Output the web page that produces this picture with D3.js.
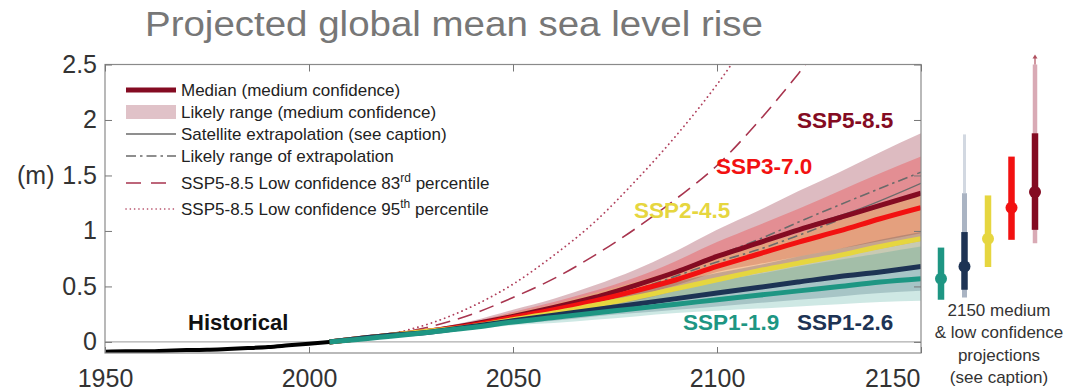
<!DOCTYPE html>
<html>
<head>
<meta charset="utf-8">
<script src="https://cdn.jsdelivr.net/npm/d3@7"></script>
<style>
  html, body { margin: 0; padding: 0; background: #fff; }
  svg { display: block; font-family: "Liberation Sans", Arial, Helvetica, sans-serif; }
</style>
</head>
<body>
<svg id="chart" width="1076" height="391"></svg>
<script>
// ---- Data -------------------------------------------------------------
const histYears = [1950, 1955, 1960, 1965, 1970, 1975, 1980, 1985, 1990, 1995, 2000, 2005];
const histValues = [-0.088, -0.084, -0.085, -0.079, -0.074, -0.071, -0.064, -0.056, -0.046, -0.031, -0.016, 0.0];

const projYears = [2005, 2020, 2030, 2040, 2050, 2060, 2070, 2080, 2090, 2100, 2110, 2120, 2130, 2140, 2150];

const ssp585Median = [0, 0.06, 0.10, 0.16, 0.23, 0.31, 0.40, 0.51, 0.63, 0.77, 0.89, 1.01, 1.12, 1.23, 1.34];
const ssp585Low    = [0, 0.05, 0.09, 0.14, 0.20, 0.26, 0.33, 0.41, 0.51, 0.63, 0.70, 0.77, 0.84, 0.91, 0.98];
const ssp585High   = [0, 0.07, 0.12, 0.19, 0.29, 0.39, 0.51, 0.65, 0.82, 1.01, 1.18, 1.36, 1.53, 1.71, 1.88];

const ssp370Median = [0, 0.06, 0.10, 0.15, 0.22, 0.29, 0.37, 0.46, 0.56, 0.68, 0.79, 0.90, 1.00, 1.11, 1.21];
const ssp370Low    = [0, 0.05, 0.09, 0.13, 0.18, 0.24, 0.30, 0.37, 0.46, 0.55, 0.62, 0.70, 0.77, 0.84, 0.91];
const ssp370High   = [0, 0.07, 0.12, 0.18, 0.27, 0.36, 0.46, 0.58, 0.73, 0.90, 1.05, 1.20, 1.36, 1.52, 1.67];

const ssp245Median = [0, 0.06, 0.10, 0.14, 0.20, 0.26, 0.33, 0.40, 0.48, 0.56, 0.64, 0.71, 0.78, 0.86, 0.93];
const ssp245Low    = [0, 0.05, 0.09, 0.12, 0.17, 0.22, 0.27, 0.33, 0.38, 0.44, 0.49, 0.54, 0.58, 0.62, 0.66];
const ssp245High   = [0, 0.07, 0.11, 0.17, 0.26, 0.34, 0.44, 0.54, 0.65, 0.76, 0.87, 0.98, 1.10, 1.21, 1.33];

const ssp126Median = [0, 0.06, 0.09, 0.14, 0.19, 0.24, 0.29, 0.34, 0.39, 0.44, 0.49, 0.54, 0.59, 0.63, 0.68];
const ssp126Low    = [0, 0.05, 0.08, 0.12, 0.16, 0.19, 0.23, 0.26, 0.29, 0.32, 0.35, 0.38, 0.41, 0.44, 0.46];
const ssp126High   = [0, 0.07, 0.11, 0.17, 0.25, 0.31, 0.38, 0.46, 0.54, 0.62, 0.69, 0.77, 0.84, 0.92, 0.99];

const ssp119Median = [0, 0.05, 0.09, 0.13, 0.18, 0.22, 0.26, 0.30, 0.34, 0.38, 0.42, 0.46, 0.50, 0.54, 0.57];
const ssp119Low    = [0, 0.05, 0.08, 0.11, 0.15, 0.17, 0.20, 0.23, 0.26, 0.28, 0.30, 0.32, 0.34, 0.36, 0.37];
const ssp119High   = [0, 0.06, 0.10, 0.16, 0.23, 0.29, 0.35, 0.41, 0.48, 0.55, 0.61, 0.68, 0.74, 0.80, 0.86];

// Low-confidence SSP5-8.5 percentiles
const p83Years  = [2020, 2030, 2040, 2050, 2060, 2070, 2080, 2090, 2100, 2110, 2120, 2130];
const p83Values = [0.07, 0.14, 0.25, 0.40, 0.57, 0.78, 1.02, 1.29, 1.59, 1.98, 2.42, 2.90];
const p95Years  = [2020, 2030, 2040, 2050, 2060, 2070, 2080, 2090, 2100, 2110];
const p95Values = [0.07, 0.17, 0.32, 0.52, 0.78, 1.08, 1.45, 1.86, 2.32, 2.85];

// Satellite-based extrapolation and its likely range
const extrapYears = [2005, 2050, 2080, 2100, 2110, 2120, 2135, 2150];
const extrapMid   = [0, 0.23, 0.50, 0.76, 0.88, 1.02, 1.20, 1.43];
const extrapLow   = [0, 0.22, 0.47, 0.72, 0.83, 0.96, 1.17, 1.35];
const extrapHigh  = [0, 0.23, 0.51, 0.78, 0.92, 1.08, 1.31, 1.53];

// 2150 projections (right-hand panel)
const scenarioNames = ["SSP1-1.9", "SSP1-2.6", "SSP2-4.5", "SSP3-7.0", "SSP5-8.5"];
const panelMedian = [0.57, 0.68, 0.93, 1.21, 1.35];
const panelLow    = [0.38, 0.47, 0.675, 0.92, 1.01];
const panelHigh   = [0.85, 0.99, 1.32, 1.67, 1.88];
// low-confidence ranges (only drawn for SSP1-2.6 and SSP5-8.5)
const panelLowConfScenarios = ["SSP1-2.6", "SSP5-8.5"];
const panelLowConfLow   = [0.40, 0.89];
const panelLowConfHigh  = [1.34, 4.82];
const panelP95High      = [1.87, null];

const yTicks = [0, 0.5, 1, 1.5, 2, 2.5];
const xTicks = [1950, 2000, 2050, 2100, 2150];

// ---- Styling ----------------------------------------------------------
const colors = {
  "SSP1-1.9": "#1e9683",
  "SSP1-2.6": "#1d3354",
  "SSP2-4.5": "#e6d63f",
  "SSP3-7.0": "#f21111",
  "SSP5-8.5": "#840b22"
};
const bandAlpha = {
  "SSP1-1.9": 0.22, "SSP1-2.6": 0.22, "SSP2-4.5": 0.25, "SSP3-7.0": 0.26, "SSP5-8.5": 0.28
};

const scenarios = [
  { name: "SSP5-8.5", median: ssp585Median, low: ssp585Low, high: ssp585High },
  { name: "SSP3-7.0", median: ssp370Median, low: ssp370Low, high: ssp370High },
  { name: "SSP2-4.5", median: ssp245Median, low: ssp245Low, high: ssp245High },
  { name: "SSP1-2.6", median: ssp126Median, low: ssp126Low, high: ssp126High },
  { name: "SSP1-1.9", median: ssp119Median, low: ssp119Low, high: ssp119High }
];

// ---- Layout -----------------------------------------------------------
const svg = d3.select("#chart");
const plotL = 105, plotR = 921, plotT = 64.5, plotB = 353;

const x = d3.scaleLinear().domain([1950, 2150]).range([plotL, plotR]);
const y = d3.scaleLinear().domain([-0.1, 2.5]).range([plotB, plotT]);

svg.append("defs").append("clipPath").attr("id", "plotClip")
  .append("rect").attr("x", plotL).attr("y", plotT)
  .attr("width", plotR - plotL).attr("height", plotB - plotT);

// Title
svg.append("text")
  .attr("x", 145).attr("y", 36)
  .attr("font-size", 35).attr("fill", "#777")
  .attr("textLength", 618).attr("lengthAdjust", "spacingAndGlyphs")
  .text("Projected global mean sea level rise");

// Zero reference line
svg.append("line")
  .attr("x1", plotL).attr("x2", plotR)
  .attr("y1", y(0)).attr("y2", y(0))
  .attr("stroke", "#999").attr("stroke-width", 1);

const plot = svg.append("g").attr("clip-path", "url(#plotClip)");

// Likely-range bands
const area = d3.area()
  .x((d, i) => x(projYears[i]))
  .y0(d => y(d[0])).y1(d => y(d[1]))
  .curve(d3.curveMonotoneX);

scenarios.forEach(s => {
  const pts = s.low.map((v, i) => [v, s.high[i]]);
  plot.append("path")
    .attr("d", area(pts))
    .attr("fill", colors[s.name])
    .attr("fill-opacity", bandAlpha[s.name]);
});

// Low-confidence percentiles
const lineXY = (xs) => d3.line().x((d, i) => x(xs[i])).y(d => y(d)).curve(d3.curveMonotoneX);

plot.append("path")
  .attr("d", lineXY(p83Years)(p83Values))
  .attr("fill", "none").attr("stroke", "#a8354f").attr("stroke-width", 1.6)
  .attr("stroke-dasharray", "15,8");

plot.append("path")
  .attr("d", lineXY(p95Years)(p95Values))
  .attr("fill", "none").attr("stroke", "#b0405c").attr("stroke-width", 1.8)
  .attr("stroke-linecap", "round").attr("stroke-dasharray", "0.1,4.6");

// Satellite extrapolation
plot.append("path")
  .attr("d", lineXY(extrapYears)(extrapMid))
  .attr("fill", "none").attr("stroke", "#6a6a6a").attr("stroke-width", 1.3);
[extrapLow, extrapHigh].forEach(arr => {
  plot.append("path")
    .attr("d", lineXY(extrapYears)(arr))
    .attr("fill", "none").attr("stroke", "#6a6a6a").attr("stroke-width", 1.6)
    .attr("stroke-dasharray", "10,4,2.5,4");
});

// Medians
scenarios.forEach(s => {
  plot.append("path")
    .attr("d", lineXY(projYears)(s.median))
    .attr("fill", "none").attr("stroke", colors[s.name])
    .attr("stroke-width", 5);
});

// Historical record
plot.append("path")
  .attr("d", lineXY(histYears)(histValues))
  .attr("fill", "none").attr("stroke", "#000").attr("stroke-width", 4);

// Frame
svg.append("rect")
  .attr("x", plotL).attr("y", plotT)
  .attr("width", plotR - plotL).attr("height", plotB - plotT)
  .attr("fill", "none").attr("stroke", "#8a8a8a").attr("stroke-width", 1.2);

// Axes (ticks point inward on every side)
const fmt = d => String(d);
const axisStyle = g => {
  g.select(".domain").remove();
  g.selectAll(".tick line").attr("stroke", "#777");
  g.selectAll(".tick text").attr("fill", "#333").attr("font-size", 25)
    .attr("font-family", '"Liberation Sans", Arial, sans-serif');
};
svg.append("g").attr("transform", `translate(${plotL},0)`)
  .call(d3.axisLeft(y).tickValues(yTicks).tickFormat(fmt).tickSizeInner(-7).tickSizeOuter(0).tickPadding(8))
  .call(axisStyle);
svg.append("g").attr("transform", `translate(${plotR},0)`)
  .call(d3.axisRight(y).tickValues(yTicks).tickFormat("").tickSizeInner(-7).tickSizeOuter(0))
  .call(axisStyle);
svg.append("g").attr("transform", `translate(0,${plotB})`)
  .call(d3.axisBottom(x).tickValues(xTicks).tickFormat(fmt).tickSizeInner(-6).tickSizeOuter(0).tickPadding(16))
  .call(axisStyle)
  // the last year label sits flush with the right edge of the frame
  .call(g => g.selectAll(".tick").filter(d => d === 2150).select("text")
    .attr("text-anchor", "end").attr("x", -1));
svg.append("g").attr("transform", `translate(0,${plotT})`)
  .call(d3.axisTop(x).tickValues(xTicks).tickFormat("").tickSizeInner(-7).tickSizeOuter(0))
  .call(axisStyle);

// Y unit
svg.append("text").attr("x", 17).attr("y", 184)
  .attr("font-size", 25).attr("fill", "#333").text("(m)");

// Scenario labels
const labels = [
  { text: "Historical", color: "#111", x: 188, y: 330, size: 22 },
  { text: "SSP5-8.5", color: colors["SSP5-8.5"], x: 797, y: 128, size: 22.5 },
  { text: "SSP3-7.0", color: colors["SSP3-7.0"], x: 716, y: 174, size: 22.5 },
  { text: "SSP2-4.5", color: colors["SSP2-4.5"], x: 634, y: 218, size: 22.5 },
  { text: "SSP1-1.9", color: colors["SSP1-1.9"], x: 683, y: 330, size: 22.5 },
  { text: "SSP1-2.6", color: colors["SSP1-2.6"], x: 797, y: 330, size: 22.5 }
];
svg.selectAll("text.scen").data(labels).join("text")
  .attr("class", "scen")
  .attr("x", d => d.x).attr("y", d => d.y)
  .attr("font-size", d => d.size)
  .attr("font-weight", "bold").attr("fill", d => d.color)
  .text(d => d.text);

// Legend
const lg = svg.append("g").attr("font-size", 17).attr("fill", "#222");
const lx0 = 126, lx1 = 176, tx = 181;
const rows = [90, 112, 134, 156, 183, 209];

lg.append("line").attr("x1", lx0).attr("x2", lx1).attr("y1", rows[0]).attr("y2", rows[0])
  .attr("stroke", colors["SSP5-8.5"]).attr("stroke-width", 5);
lg.append("rect").attr("x", lx0).attr("y", rows[1] - 7).attr("width", lx1 - lx0).attr("height", 14)
  .attr("fill", colors["SSP5-8.5"]).attr("fill-opacity", 0.25);
lg.append("line").attr("x1", lx0).attr("x2", lx1).attr("y1", rows[2]).attr("y2", rows[2])
  .attr("stroke", "#6a6a6a").attr("stroke-width", 1.3);
lg.append("line").attr("x1", lx0).attr("x2", lx1).attr("y1", rows[3]).attr("y2", rows[3])
  .attr("stroke", "#6a6a6a").attr("stroke-width", 1.5).attr("stroke-dasharray", "10,4,2.5,4");
lg.append("line").attr("x1", lx0).attr("x2", lx1).attr("y1", rows[4]).attr("y2", rows[4])
  .attr("stroke", "#a8354f").attr("stroke-width", 1.6).attr("stroke-dasharray", "15,10");
lg.append("line").attr("x1", lx0).attr("x2", lx1).attr("y1", rows[5]).attr("y2", rows[5])
  .attr("stroke", "#b0405c").attr("stroke-width", 1.6).attr("stroke-linecap", "round")
  .attr("stroke-dasharray", "0.1,4.2");

const legendText = [
  ["Median (medium confidence)"],
  ["Likely range (medium confidence)"],
  ["Satellite extrapolation (see caption)"],
  ["Likely range of extrapolation"],
  ["SSP5-8.5 Low confidence 83", "rd", " percentile"],
  ["SSP5-8.5 Low confidence 95", "th", " percentile"]
];
legendText.forEach((parts, i) => {
  const t = lg.append("text").attr("x", tx).attr("y", rows[i] + 6);
  t.append("tspan").text(parts[0]);
  if (parts.length > 1) {
    t.append("tspan").attr("dy", -7).attr("font-size", 12).text(parts[1]);
    t.append("tspan").attr("dy", 7).text(parts[2]);
  }
});

// Right-hand panel: 2150 projections
const px = d3.scalePoint().domain(scenarioNames).range([941, 1035]);
const panel = svg.append("g");

// low-confidence extensions
panelLowConfScenarios.forEach((name, i) => {
  const cx = px(name);
  const lightColor = name === "SSP5-8.5" ? "#d9aab5" : "#aab4c3";
  const hi = Math.min(panelLowConfHigh[i], 2.5);
  if (panelP95High[i] !== null) {
    panel.append("line").attr("x1", cx).attr("x2", cx)
      .attr("y1", y(panelLowConfHigh[i])).attr("y2", y(panelP95High[i]))
      .attr("stroke", "#d2d8e1").attr("stroke-width", 3);
  }
  panel.append("line").attr("x1", cx).attr("x2", cx)
    .attr("y1", y(panelLowConfLow[i])).attr("y2", y(hi))
    .attr("stroke", lightColor).attr("stroke-width", name === "SSP5-8.5" ? 4.5 : 5);
  if (panelLowConfHigh[i] > 2.5) {
    panel.append("line").attr("x1", cx).attr("x2", cx)
      .attr("y1", y(2.5)).attr("y2", y(2.5) - 8)
      .attr("stroke", "#b0505f").attr("stroke-width", 1.2);
    panel.append("path")
      .attr("d", `M${cx - 2.5},${y(2.5) - 6} L${cx},${y(2.5) - 10} L${cx + 2.5},${y(2.5) - 6} Z`)
      .attr("fill", "#b0505f");
  }
});

scenarioNames.forEach((name, i) => {
  const cx = px(name);
  panel.append("line").attr("x1", cx).attr("x2", cx)
    .attr("y1", y(panelLow[i])).attr("y2", y(panelHigh[i]))
    .attr("stroke", colors[name]).attr("stroke-width", 6.5);
  panel.append("circle").attr("cx", cx).attr("cy", y(panelMedian[i])).attr("r", 6)
    .attr("fill", colors[name]);
});

const caption = ["2150 medium", "& low confidence", "projections", "(see caption)"];
svg.append("g").selectAll("text").data(caption).join("text")
  .attr("x", 999).attr("y", (d, i) => 316 + i * 22.3)
  .attr("text-anchor", "middle").attr("font-size", 17).attr("fill", "#333")
  .text(d => d);
</script>
</body>
</html>
